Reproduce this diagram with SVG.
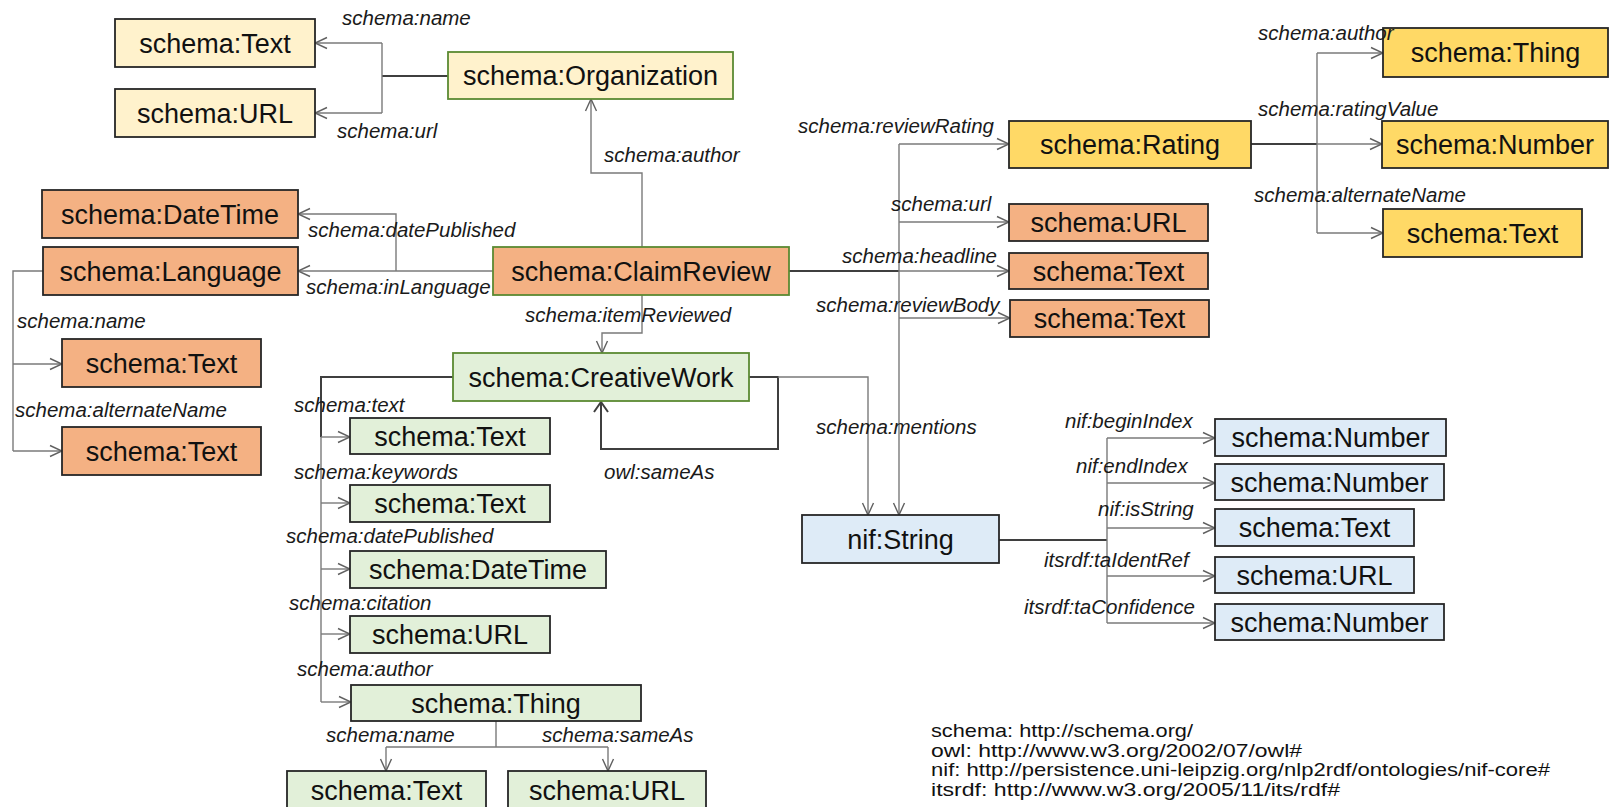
<svg xmlns="http://www.w3.org/2000/svg" width="1610" height="807" viewBox="0 0 1610 807">
<defs>
<marker id="arr" viewBox="-13 -7 14 14" markerWidth="14" markerHeight="14" refX="0" refY="0" orient="auto" markerUnits="userSpaceOnUse">
<path d="M-12,-5.5 L0,0 L-12,5.5" fill="none" stroke="#606060" stroke-width="1.4"/>
</marker>
</defs>
<style>
.n{stroke:#262626;stroke-width:1.8}
.g{stroke:#5b8a32}
.cream{fill:#FFF2CC}
.org{fill:#F4B183}
.grn{fill:#E2F0D9}
.gold{fill:#FFD966}
.blue{fill:#DEEBF7}
.t{font-family:"Liberation Sans",Arial,sans-serif;font-size:27px;fill:#111;text-anchor:middle}
.l{font-family:"Liberation Sans",Arial,sans-serif;font-size:20.5px;font-style:italic;fill:#1a1a1a}
.c{fill:none;stroke:#7a7a7a;stroke-width:1.4}
.d{fill:none;stroke:#3f3f3f;stroke-width:2}
.a{marker-end:url(#arr)}
.lg{font-family:"Liberation Sans",Arial,sans-serif;font-size:19px;fill:#111}
</style>
<rect width="1610" height="807" fill="#fff"/>

<g id="connectors">
<path class="d" d="M448,76 H382"/>
<path class="c" d="M382,76 V43"/>
<path class="c" d="M382,76 V113"/>
<path class="c a" d="M382,43 H315"/>
<path class="c a" d="M382,113 H315"/>
<path class="c a" d="M642,247 V173 H591 V99"/>
<path class="c a" d="M493,271 H298"/>
<path class="c a" d="M396,271 V214 H298"/>
<path class="c" d="M43,271 H13 V451"/>
<path class="c a" d="M13,364 H62"/>
<path class="c a" d="M13,451 H62"/>
<path class="c a" d="M642,295 V333 H602 V353"/>
<path class="d" d="M789,271 H899"/>
<path class="c a" d="M899,144 V515"/>
<path class="c a" d="M899,144 H1009"/>
<path class="c a" d="M899,222 H1009"/>
<path class="c a" d="M899,271 H1009"/>
<path class="c a" d="M899,318 H1010"/>
<path class="d" d="M1251,144 H1317"/>
<path class="c" d="M1317,53 V233"/>
<path class="c a" d="M1317,53 H1383"/>
<path class="c a" d="M1317,144 H1382"/>
<path class="c a" d="M1317,233 H1383"/>
<path class="d" d="M453,377 H321 V437"/>
<path class="c" d="M321,437 V702"/>
<path class="c a" d="M321,437 H350"/>
<path class="c a" d="M321,503 H350"/>
<path class="c a" d="M321,569 H350"/>
<path class="c a" d="M321,634 H350"/>
<path class="c a" d="M321,702 H351"/>
<path class="d" d="M749,377 H778 V449 H601 V402"/>
<path d="M594,412 L601,402 L608,412" fill="none" stroke="#3f3f3f" stroke-width="2"/>
<path class="c a" d="M778,377 H868 V515"/>
<path class="d" d="M999,540 H1107"/>
<path class="c" d="M1107,438 V623"/>
<path class="c a" d="M1107,438 H1215"/>
<path class="c a" d="M1107,483 H1215"/>
<path class="c a" d="M1107,528 H1215"/>
<path class="c a" d="M1107,576 H1215"/>
<path class="c a" d="M1107,623 H1215"/>
<path class="c" d="M496,721 V747 M386,747 H608"/>
<path class="c a" d="M386,747 V771"/>
<path class="c a" d="M608,747 V771"/>
</g>

<g id="n-org-text"><rect class="n cream" x="115" y="19" width="200" height="48"/><text class="t" x="215" y="52.5">schema:Text</text></g>
<g id="n-org-url"><rect class="n cream" x="115" y="89" width="200" height="48"/><text class="t" x="215" y="122.5">schema:URL</text></g>
<g id="n-organization"><rect class="n cream g" x="448" y="52" width="285" height="47"/><text class="t" x="590.5" y="85">schema:Organization</text></g>
<g id="n-datetime"><rect class="n org" x="42" y="190" width="256" height="48"/><text class="t" x="170" y="223.5">schema:DateTime</text></g>
<g id="n-language"><rect class="n org" x="43" y="247" width="255" height="48"/><text class="t" x="170.5" y="280.5">schema:Language</text></g>
<g id="n-claimreview"><rect class="n org g" x="493" y="247" width="296" height="48"/><text class="t" x="641" y="280.5">schema:ClaimReview</text></g>
<g id="n-lang-name"><rect class="n org" x="62" y="339" width="199" height="48"/><text class="t" x="161.5" y="372.5">schema:Text</text></g>
<g id="n-lang-alt"><rect class="n org" x="62" y="427" width="199" height="48"/><text class="t" x="161.5" y="460.5">schema:Text</text></g>
<g id="n-creativework"><rect class="n grn g" x="453" y="353" width="296" height="48"/><text class="t" x="601" y="386.5">schema:CreativeWork</text></g>
<g id="n-cw-text"><rect class="n grn" x="350" y="418" width="200" height="36"/><text class="t" x="450" y="445.5">schema:Text</text></g>
<g id="n-cw-keywords"><rect class="n grn" x="350" y="485" width="200" height="37"/><text class="t" x="450" y="513">schema:Text</text></g>
<g id="n-cw-date"><rect class="n grn" x="350" y="551" width="256" height="37"/><text class="t" x="478" y="579">schema:DateTime</text></g>
<g id="n-cw-url"><rect class="n grn" x="350" y="616" width="200" height="37"/><text class="t" x="450" y="644">schema:URL</text></g>
<g id="n-cw-thing"><rect class="n grn" x="351" y="685" width="290" height="36"/><text class="t" x="496" y="712.5">schema:Thing</text></g>
<g id="n-thing-name"><rect class="n grn" x="287" y="771" width="199" height="40"/><text class="t" x="386.5" y="800">schema:Text</text></g>
<g id="n-thing-sameas"><rect class="n grn" x="508" y="771" width="198" height="40"/><text class="t" x="607" y="800">schema:URL</text></g>
<g id="n-rating"><rect class="n gold" x="1009" y="121" width="242" height="47"/><text class="t" x="1130" y="154">schema:Rating</text></g>
<g id="n-rating-thing"><rect class="n gold" x="1383" y="28" width="225" height="49"/><text class="t" x="1495.5" y="62">schema:Thing</text></g>
<g id="n-rating-number"><rect class="n gold" x="1382" y="121" width="226" height="47"/><text class="t" x="1495" y="154">schema:Number</text></g>
<g id="n-rating-text"><rect class="n gold" x="1383" y="209" width="199" height="48"/><text class="t" x="1482.5" y="242.5">schema:Text</text></g>
<g id="n-cr-url"><rect class="n org" x="1009" y="204" width="199" height="37"/><text class="t" x="1108.5" y="232">schema:URL</text></g>
<g id="n-cr-headline"><rect class="n org" x="1009" y="253" width="199" height="36"/><text class="t" x="1108.5" y="280.5">schema:Text</text></g>
<g id="n-cr-body"><rect class="n org" x="1010" y="300" width="199" height="37"/><text class="t" x="1109.5" y="328">schema:Text</text></g>
<g id="n-nifstring"><rect class="n blue" x="802" y="515" width="197" height="48"/><text class="t" x="900.5" y="548.5">nif:String</text></g>
<g id="n-begin"><rect class="n blue" x="1215" y="419" width="231" height="37"/><text class="t" x="1330.5" y="447">schema:Number</text></g>
<g id="n-end"><rect class="n blue" x="1215" y="464" width="229" height="36"/><text class="t" x="1329.5" y="491.5">schema:Number</text></g>
<g id="n-isstring"><rect class="n blue" x="1215" y="509" width="199" height="37"/><text class="t" x="1314.5" y="537">schema:Text</text></g>
<g id="n-identref"><rect class="n blue" x="1215" y="557" width="199" height="36"/><text class="t" x="1314.5" y="584.5">schema:URL</text></g>
<g id="n-confidence"><rect class="n blue" x="1215" y="604" width="229" height="36"/><text class="t" x="1329.5" y="631.5">schema:Number</text></g>

<g id="edge-labels">
<text class="l" x="342" y="25">schema:name</text>
<text class="l" x="337" y="138">schema:url</text>
<text class="l" x="604" y="162">schema:author</text>
<text class="l" x="308" y="237">schema:datePublished</text>
<text class="l" x="306" y="294">schema:inLanguage</text>
<text class="l" x="17" y="328">schema:name</text>
<text class="l" x="15" y="417">schema:alternateName</text>
<text class="l" x="525" y="322">schema:itemReviewed</text>
<text class="l" x="798" y="133">schema:reviewRating</text>
<text class="l" x="891" y="211">schema:url</text>
<text class="l" x="842" y="263">schema:headline</text>
<text class="l" x="816" y="312">schema:reviewBody</text>
<text class="l" x="1258" y="40">schema:author</text>
<text class="l" x="1258" y="116">schema:ratingValue</text>
<text class="l" x="1254" y="202">schema:alternateName</text>
<text class="l" x="294" y="412">schema:text</text>
<text class="l" x="294" y="479">schema:keywords</text>
<text class="l" x="286" y="543">schema:datePublished</text>
<text class="l" x="289" y="610">schema:citation</text>
<text class="l" x="297" y="676">schema:author</text>
<text class="l" x="604" y="479">owl:sameAs</text>
<text class="l" x="816" y="434">schema:mentions</text>
<text class="l" x="1065" y="428">nif:beginIndex</text>
<text class="l" x="1076" y="473">nif:endIndex</text>
<text class="l" x="1098" y="516">nif:isString</text>
<text class="l" x="1044" y="567">itsrdf:taIdentRef</text>
<text class="l" x="1024" y="614">itsrdf:taConfidence</text>
<text class="l" x="326" y="742">schema:name</text>
<text class="l" x="542" y="742">schema:sameAs</text>
</g>

<g id="legend">
<text class="lg" x="931" y="737" textLength="262" lengthAdjust="spacingAndGlyphs">schema: http://schema.org/</text>
<text class="lg" x="931" y="756.5" textLength="371" lengthAdjust="spacingAndGlyphs">owl: http://www.w3.org/2002/07/owl#</text>
<text class="lg" x="931" y="776" textLength="619" lengthAdjust="spacingAndGlyphs">nif: http://persistence.uni-leipzig.org/nlp2rdf/ontologies/nif-core#</text>
<text class="lg" x="931" y="795.5" textLength="409" lengthAdjust="spacingAndGlyphs">itsrdf: http://www.w3.org/2005/11/its/rdf#</text>
</g>
</svg>
